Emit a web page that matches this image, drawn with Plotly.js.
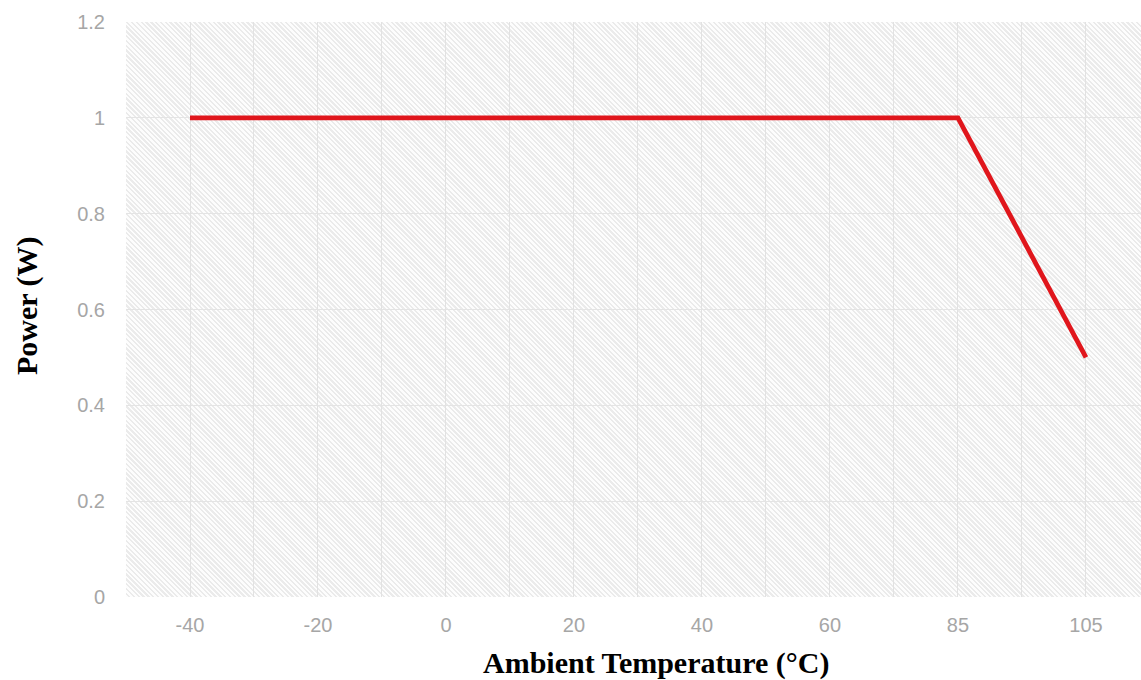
<!DOCTYPE html>
<html>
<head>
<meta charset="utf-8">
<script src="https://cdn.plot.ly/plotly-3.0.1.min.js"></script>
<style>
  html, body { margin: 0; padding: 0; background: #ffffff; }
  #wrap { position: relative; width: 1141px; height: 680px; }
  #hatch {
    position: absolute; left: 126px; top: 22px; width: 1015px; height: 575px;
    background: repeating-linear-gradient(45deg, #fdfdfd 0px, #fdfdfd 1.7px, #ebebeb 1.7px, #ebebeb 3.4px);
  }
  #chart { position: relative; width: 1141px; height: 680px; }
</style>
</head>
<body>
<div id="wrap">
  <div id="hatch"></div>
  <div id="chart"></div>
</div>
<script>
// Data
const tempLabels = ['-40', '-20', '0', '20', '40', '60', '85', '105'];
const powerValues = [1, 1, 1, 1, 1, 1, 1, 0.5];
const yTickValues = [0, 0.2, 0.4, 0.6, 0.8, 1, 1.2];
const xTitle = 'Ambient Temperature (°C)';
const yTitle = 'Power (W)';

const xIdx = tempLabels.map((_, i) => i);

const trace = {
  x: xIdx,
  y: powerValues,
  type: 'scatter',
  mode: 'lines',
  line: { color: '#e0161c', width: 4.8 },
  hoverinfo: 'skip'
};

const W = 1141, H = 680, ml = 126, mr = 0, mt = 22, mb = 83;
const pw = W - ml - mr, ph = H - mt - mb;

const tickFont = { family: 'Liberation Sans, Arial, sans-serif', size: 20, color: '#a6a6a6' };

const layout = {
  width: W, height: H,
  margin: { l: ml, r: mr, t: mt, b: mb, pad: 0 },
  paper_bgcolor: 'rgba(0,0,0,0)',
  plot_bgcolor: 'rgba(0,0,0,0)',
  showlegend: false,
  xaxis: {
    type: 'linear',
    range: [-0.5, 7.43],
    tickmode: 'array',
    tickvals: xIdx,
    ticktext: tempLabels,
    showgrid: true,
    gridcolor: '#e2e2e2',
    gridwidth: 1,
    minor: { tickvals: xIdx.map(i => i - 0.5).concat([xIdx.length - 0.5]), showgrid: true, gridcolor: '#e2e2e2', gridwidth: 1 },
    zeroline: false,
    showline: false,
    ticks: '',
    ticklabelstandoff: 14,
    tickfont: tickFont,
    fixedrange: true
  },
  yaxis: {
    range: [0, 1.2],
    tickmode: 'array',
    tickvals: yTickValues,
    ticktext: yTickValues.map(v => String(v)),
    showgrid: true,
    gridcolor: '#e4e4e4',
    gridwidth: 1,
    zeroline: false,
    showline: false,
    ticks: '',
    ticklabelstandoff: 20,
    tickfont: tickFont,
    fixedrange: true
  },
  annotations: [
    {
      text: '<b>' + xTitle + '</b>',
      xref: 'paper', yref: 'paper',
      x: (656 - ml) / pw, y: (H - mb - 663) / ph,
      xanchor: 'center', yanchor: 'middle',
      showarrow: false,
      font: { family: 'Liberation Serif, Times New Roman, serif', size: 30, color: '#000000' }
    },
    {
      text: '<b>' + yTitle + '</b>',
      xref: 'paper', yref: 'paper',
      x: (27 - ml) / pw, y: (H - mb - 306) / ph,
      xanchor: 'center', yanchor: 'middle',
      textangle: -90,
      showarrow: false,
      font: { family: 'Liberation Serif, Times New Roman, serif', size: 30, color: '#000000' }
    }
  ]
};

Plotly.newPlot('chart', [trace], layout, { displayModeBar: false, staticPlot: true });
</script>
</body>
</html>
